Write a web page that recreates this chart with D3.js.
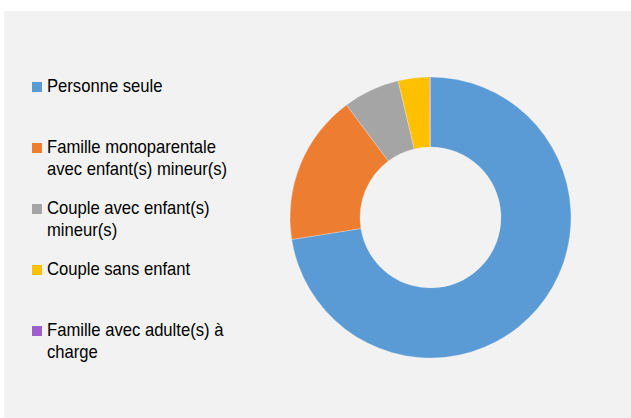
<!DOCTYPE html>
<html>
<head>
<meta charset="utf-8">
<script src="https://cdn.jsdelivr.net/npm/d3@7"></script>
<style>
body { margin: 0; background: #fff; }
</style>
</head>
<body>
<script>
// data
var categories = ["Personne seule", "Famille monoparentale avec enfant(s) mineur(s)", "Couple avec enfant(s) mineur(s)", "Couple sans enfant", "Famille avec adulte(s) à charge"];
var legendLines = [["Personne seule"], ["Famille monoparentale", "avec enfant(s) mineur(s)"], ["Couple avec enfant(s)", "mineur(s)"], ["Couple sans enfant"], ["Famille avec adulte(s) à", "charge"]];
var values = [72.5, 17.3, 6.5, 3.6, 0.1];
var colors = ["#5b9bd5", "#ed7d31", "#a5a5a5", "#ffc000", "#9e5ecd"];

var width = 631;
var height = 418;

var svg = d3.select("body")
.append("svg")
.attr("width", width)
.attr("height", height);

svg.append("rect")
.attr("x", 4)
.attr("y", 11)
.attr("width", width - 4)
.attr("height", height - 11)
.attr("fill", "#f2f2f2");

var cx = 430.5, cy = 217.5;
var outerR = 140.5, innerR = 70.5;

var pie = d3.pie().sort(null).value(function(d){ return d; });
var arc = d3.arc().innerRadius(innerR).outerRadius(outerR);

svg.append("g")
.attr("transform", "translate(" + cx + "," + cy + ")")
.selectAll("path")
.data(pie(values))
.enter()
.append("path")
.attr("d", arc)
.attr("fill", function(d, i){ return colors[i]; })
.attr("stroke", "#f2f2f2")
.attr("stroke-width", 0.3);

// legend
var legendY = d3.scalePoint()
.domain(d3.range(categories.length))
.range([92, 336]);

var item = svg.selectAll(".legend")
.data(legendLines)
.enter()
.append("g")
.attr("class", "legend")
.attr("transform", function(d, i){ return "translate(32," + legendY(i) + ")"; });

item.append("rect")
.attr("x", 0)
.attr("y", -10)
.attr("width", 10)
.attr("height", 10)
.attr("fill", function(d, i){ return colors[i]; });

var txt = item.append("text")
.attr("transform", "translate(15,0) scale(0.875,1)")
.attr("font-family", "'Liberation Sans', Arial, sans-serif")
.attr("font-size", "19px")
.attr("fill", "#000");

txt.selectAll("tspan")
.data(function(d){ return d; })
.enter()
.append("tspan")
.attr("x", 0)
.attr("y", function(d, j){ return j * 22.5; })
.text(function(d){ return d; });
</script>
</body>
</html>
